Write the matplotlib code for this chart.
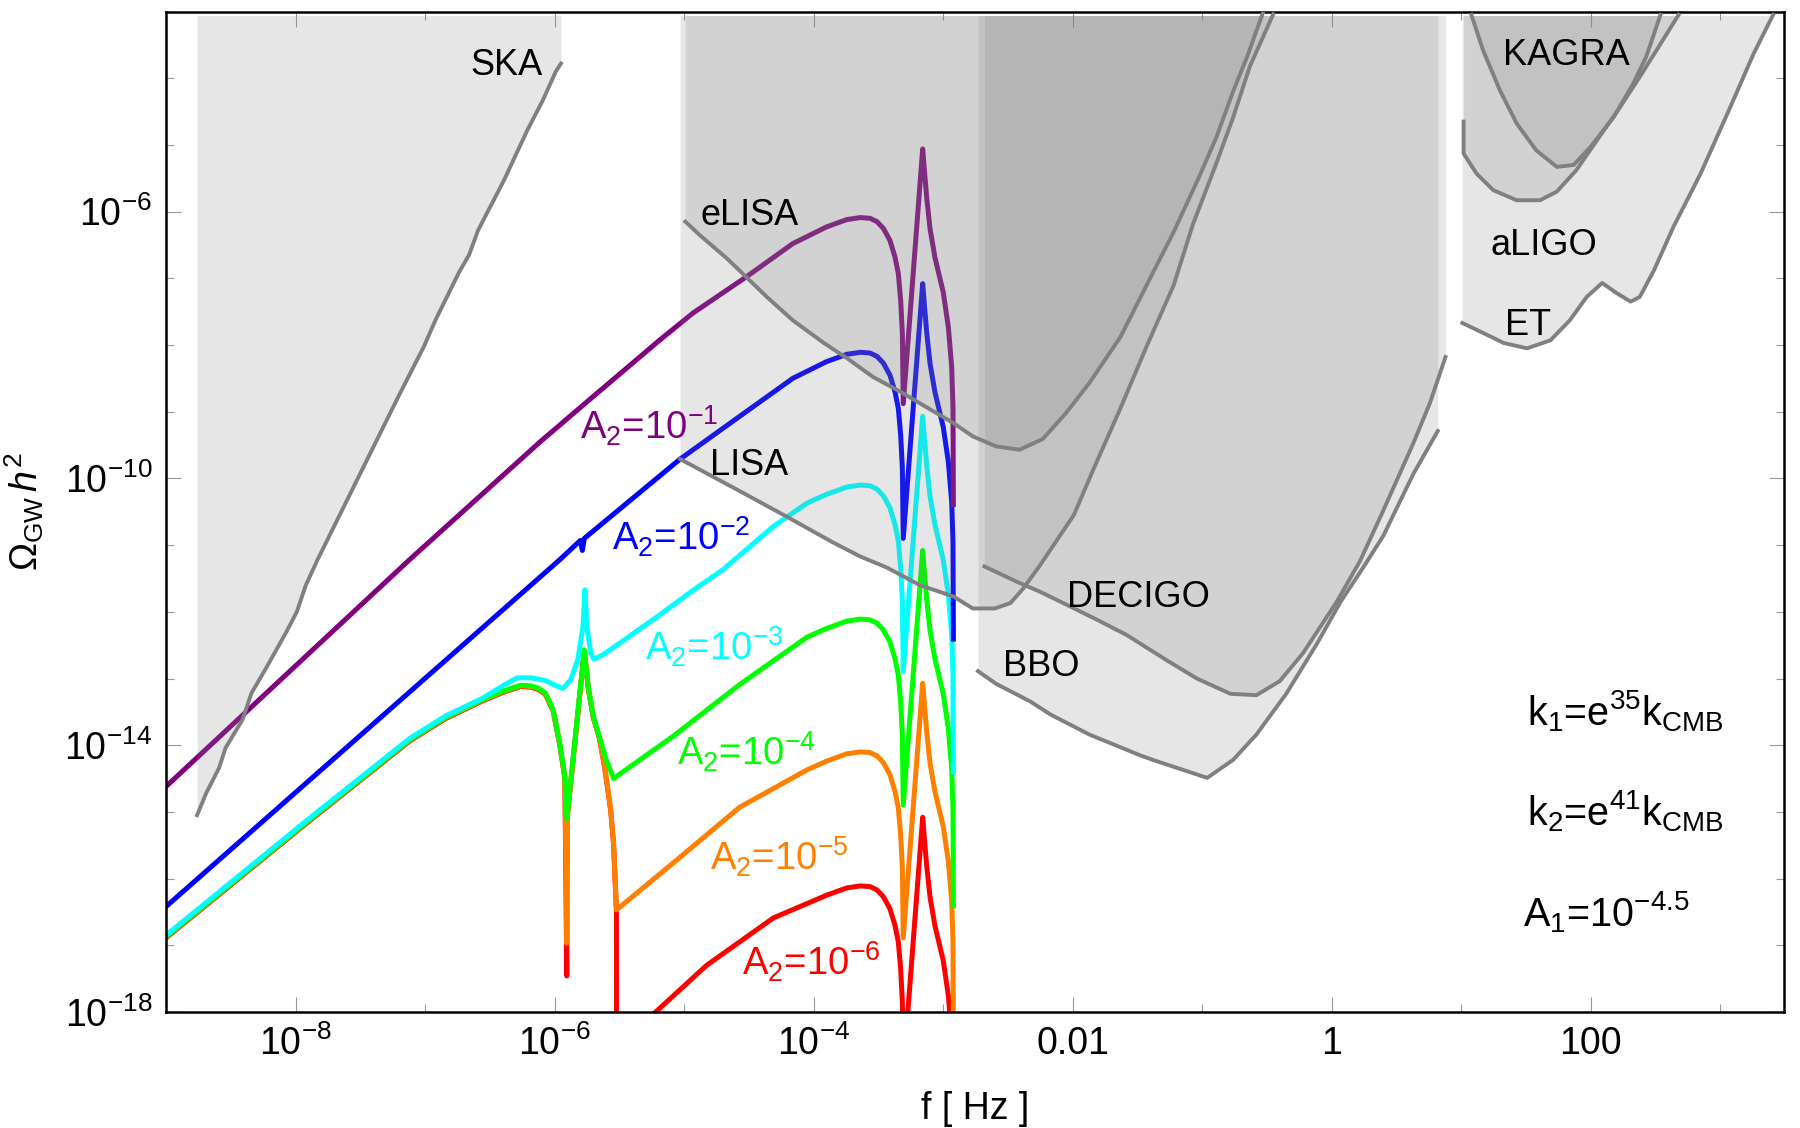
import numpy as np
import matplotlib
matplotlib.use('Agg')
import matplotlib.pyplot as plt
from matplotlib.ticker import NullFormatter

plt.rcParams['font.family'] = ['Liberation Sans', 'DejaVu Sans']
plt.rcParams['mathtext.fontset'] = 'custom'
plt.rcParams['mathtext.rm'] = 'Liberation Sans'
plt.rcParams['mathtext.it'] = 'Liberation Sans:italic'
plt.rcParams['mathtext.bf'] = 'Liberation Sans:bold'

# All values are log10(f / Hz) and log10(Omega_GW h^2).

# detector sensitivity curves
ska_f = [-8.76, -8.69, -8.59, -8.54, -8.41, -8.34, -8.22, -8.07, -7.99, -7.92, -7.83, -7.21,
         -7.10, -7.01, -6.92, -6.74, -6.66, -6.59, -6.39, -6.21, -6.09, -5.99, -5.95]
ska_om = [-15.05, -14.72, -14.34, -14.04, -13.62, -13.22, -12.82, -12.30, -12.00, -11.60, -11.22, -8.79,
          -8.37, -8.03, -7.63, -6.92, -6.65, -6.28, -5.53, -4.78, -4.33, -3.90, -3.78]

elisa_f = [-4.99, -4.88, -4.67, -4.52, -4.36, -4.16, -3.92, -3.74, -3.54, -3.33, -3.13, -2.92, -2.77,
           -2.59, -2.41, -2.23, -2.05, -1.87, -1.63, -1.38, -1.22, -1.02, -0.89, -0.76, -0.65, -0.53]
elisa_om = [-6.15, -6.35, -6.70, -6.98, -7.28, -7.63, -7.97, -8.20, -8.48, -8.70, -8.93, -9.17, -9.37,
            -9.52, -9.57, -9.41, -9.02, -8.57, -7.88, -6.92, -6.31, -5.47, -4.89, -4.20, -3.67, -3.02]

lisa_f = [-5.03, -4.57, -4.21, -3.85, -3.64, -3.43, -3.18, -2.92, -2.77, -2.60, -2.48, -2.38,
          -2.25, -1.99, -1.84, -1.63, -1.43, -1.22, -1.07, -0.89, -0.76, -0.63, -0.45]
lisa_om = [-9.71, -10.19, -10.57, -10.96, -11.17, -11.34, -11.60, -11.77, -11.95, -11.95, -11.87, -11.65,
           -11.30, -10.55, -9.87, -8.95, -8.03, -7.11, -6.19, -5.28, -4.59, -3.82, -3.04]

decigo_f = [-2.68, -2.43, -2.25, -2.05, -1.81, -1.58, -1.27, -1.04, -0.78, -0.58, -0.40, -0.22,
            0.04, 0.22, 0.40, 0.63, 0.76, 0.88]
decigo_om = [-11.32, -11.55, -11.70, -11.89, -12.12, -12.35, -12.73, -13.00, -13.23, -13.25, -13.04, -12.62,
             -11.85, -11.24, -10.48, -9.48, -8.87, -8.18]

bbo_f = [-2.73, -2.59, -2.33, -2.17, -1.87, -1.48, -1.38, -0.96, -0.76, -0.58, -0.35, -0.11,
         0.07, 0.25, 0.40, 0.63, 0.82]
bbo_om = [-12.89, -13.08, -13.34, -13.54, -13.84, -14.15, -14.22, -14.49, -14.22, -13.84, -13.23, -12.47,
          -11.85, -11.32, -10.86, -9.94, -9.29]

kagra_f = [1.08, 1.17, 1.30, 1.43, 1.58, 1.74, 1.87, 2.00, 2.18, 2.33, 2.43, 2.54]
kagra_om = [-3.05, -3.58, -4.18, -4.68, -5.08, -5.33, -5.30, -5.03, -4.58, -4.08, -3.68, -3.05]

aligo_f = [1.02, 1.02, 1.12, 1.25, 1.43, 1.61, 1.74, 1.89, 2.05, 2.23, 2.38, 2.51, 2.68]
aligo_om = [-4.65, -5.13, -5.43, -5.68, -5.83, -5.83, -5.70, -5.38, -4.93, -4.43, -3.98, -3.58, -3.05]

et_f = [1.01, 1.15, 1.33, 1.51, 1.69, 1.84, 1.97, 2.09, 2.20, 2.31, 2.38, 2.49, 2.64, 2.85, 3.08, 3.26, 3.41]
et_om = [-7.67, -7.80, -7.97, -8.05, -7.93, -7.63, -7.28, -7.07, -7.22, -7.35, -7.28, -6.88, -6.23,
         -5.43, -4.43, -3.63, -3.05]

# spectra for the six A2 values; f samples shared around the second resonance
res2_f = [-3.90, -3.744, -3.64, -3.564, -3.51, -3.461, -3.41, -3.371, -3.345, -3.327, -3.314, -3.307,
          -3.157, -3.139, -3.126, -3.100, -3.062, -2.998, -2.959, -2.933, -2.923, -2.920]

a2_1_f = [-9.00, -7.12, -6.11, -5.73, -5.19, -4.93, -4.52, -4.16] + res2_f
a2_1_om = [-14.62, -11.22, -9.45, -8.82, -7.93, -7.52, -6.98, -6.48,
           -6.23, -6.12, -6.09, -6.10, -6.15, -6.25, -6.43, -6.68, -6.93, -7.33, -7.82, -8.88,
           -5.06, -5.49, -5.79, -6.26, -6.69, -7.21, -7.73, -8.33, -8.93, -10.39]

a2_2_f = [-9.00, -5.96, -5.80, -5.785, -5.77, -5.03, -4.52, -4.16] + res2_f
a2_2_om = [-16.42, -11.22, -10.93, -11.08, -10.90, -9.71, -9.00, -8.50,
           -8.25, -8.14, -8.11, -8.12, -8.17, -8.27, -8.45, -8.70, -8.95, -9.35, -9.84, -10.90,
           -7.08, -7.51, -7.81, -8.28, -8.71, -9.23, -9.75, -10.35, -10.95, -12.41]

a2_3_f = [-9.00, -7.94, -7.12, -6.84, -6.56, -6.40, -6.29, -6.18, -6.07, -5.985, -5.935, -5.875, -5.82,
          -5.78, -5.765, -5.75, -5.72, -5.695, -5.63, -5.46, -5.19, -4.91, -4.70, -4.31, -4.05] + res2_f
a2_3_om = [-16.85, -15.17, -13.90, -13.56, -13.30, -13.11, -12.99, -12.99, -13.03, -13.11, -13.15, -13.02,
           -12.72, -12.22, -11.67, -12.22, -12.62, -12.71, -12.65, -12.42, -12.05, -11.65, -11.37, -10.72,
           -10.37,
           -10.24, -10.13, -10.10, -10.11, -10.16, -10.26, -10.44, -10.69, -10.94, -11.34, -11.83, -12.89,
           -9.07, -9.50, -9.80, -10.27, -10.70, -11.22, -11.74, -12.34, -12.94, -14.40]

a2_4_f = [-9.00, -7.94, -7.12, -6.84, -6.56, -6.40, -6.26, -6.18, -6.12, -6.07, -6.01, -5.96, -5.92,
          -5.905, -5.77, -5.74, -5.70, -5.654, -5.60, -5.544, -5.08, -4.57, -4.05] + res2_f
a2_4_om = [-16.87, -15.19, -13.92, -13.58, -13.32, -13.19, -13.10, -13.11, -13.15, -13.22, -13.47, -13.97,
           -14.47, -15.10, -12.57, -13.12, -13.57, -13.87, -14.22, -14.50, -13.86, -13.09, -12.38,
           -12.25, -12.14, -12.11, -12.12, -12.17, -12.27, -12.45, -12.70, -12.95, -13.35, -13.84, -14.90,
           -11.08, -11.51, -11.81, -12.28, -12.71, -13.23, -13.75, -14.35, -14.95, -16.41]

a2_5_f = [-9.00, -7.94, -7.12, -6.84, -6.56, -6.40, -6.26, -6.18, -6.12, -6.07, -6.01, -5.96, -5.92,
          -5.905, -5.903, -5.77, -5.74, -5.70, -5.654, -5.613, -5.566, -5.544, -5.522,
          -5.08, -4.57, -4.05] + res2_f
a2_5_om = [-16.88, -15.20, -13.93, -13.59, -13.33, -13.20, -13.11, -13.12, -13.16, -13.23, -13.48, -13.98,
           -14.48, -16.97, -15.10, -12.58, -13.13, -13.58, -13.88, -14.32, -14.97, -15.47, -16.47,
           -15.76, -14.93, -14.37,
           -14.24, -14.13, -14.10, -14.11, -14.16, -14.26, -14.44, -14.69, -14.94, -15.34, -15.83, -16.89,
           -13.07, -13.50, -13.80, -14.27, -14.70, -15.22, -15.74, -16.34, -16.94, -18.40]

a2_6_f = [-9.00, -7.94, -7.12, -6.84, -6.56, -6.40, -6.26, -6.18, -6.12, -6.07, -6.01, -5.96, -5.92,
          -5.905, -5.903, -5.77, -5.74, -5.70, -5.654, -5.613, -5.566, -5.544, -5.522, -5.521,
          np.nan, -5.224, -4.825, -4.31] + res2_f[:20]
a2_6_om = [-16.89, -15.21, -13.94, -13.60, -13.34, -13.21, -13.12, -13.13, -13.17, -13.24, -13.49, -13.99,
           -14.49, -17.46, -15.10, -12.59, -13.14, -13.59, -13.89, -14.33, -14.98, -15.48, -16.48, -18.10,
           np.nan, -18.01, -17.30, -16.59,
           -16.25, -16.14, -16.11, -16.12, -16.17, -16.27, -16.45, -16.70, -16.95, -17.35, -17.84, -18.90,
           -15.08, -15.51, -15.81, -16.28, -16.71, -17.23, -17.75, -18.35]

a2_labels = ['A$_2$=10$^{-1}$', 'A$_2$=10$^{-2}$', 'A$_2$=10$^{-3}$',
             'A$_2$=10$^{-4}$', 'A$_2$=10$^{-5}$', 'A$_2$=10$^{-6}$']
a2_colors = ['#800080', '#0000ff', '#00ffff', '#00ff00', '#ff8000', '#ff0000']

xmajor = [-8, -6, -4, -2, 0, 2]
xmajor_labels = ['$10^{-8}$', '$10^{-6}$', '$10^{-4}$', '0.01', '1', '100']
xminor = [-7, -5, -3, -1, 1, 3]
ymajor = [-18, -14, -10, -6]
ymajor_labels = ['$10^{-18}$', '$10^{-14}$', '$10^{-10}$', '$10^{-6}$']
yminor = [d for d in range(-17, -2) if d not in ymajor]


def p(a):
    return 10.0 ** np.asarray(a, dtype=float)


fig = plt.figure(figsize=(18, 11.28), dpi=100)
ax = fig.add_axes([166 / 1800, 1 - 1012 / 1128, 1618 / 1800, 1000.5 / 1128])
ax.set_xscale('log')
ax.set_yscale('log')
ax.set_xlim(1e-9, 10 ** 3.494)
ax.set_ylim(1e-18, 1e-3)

# coloured spectra (drawn under the detector shading)
curves = [(a2_6_f, a2_6_om), (a2_5_f, a2_5_om), (a2_4_f, a2_4_om),
          (a2_3_f, a2_3_om), (a2_2_f, a2_2_om), (a2_1_f, a2_1_om)]
for (f, om), c in zip(curves, a2_colors[::-1]):
    ax.plot(p(f), p(om), color=c, lw=3.6, zorder=2)

# detector regions: translucent grey above each curve, overlaps get darker
fill_top = 10 ** -3.06
detectors = [(ska_f, ska_om), (elisa_f, elisa_om), (lisa_f, lisa_om), (decigo_f, decigo_om),
             (bbo_f, bbo_om), (kagra_f, kagra_om), (aligo_f, aligo_om), (et_f, et_om)]
for f, om in detectors:
    ax.fill_between(p(f), p(om), fill_top, color='#828282', alpha=0.2, lw=0, zorder=3)
for f, om in detectors:
    ax.plot(p(f), p(om), color='#808080', lw=2.8, zorder=4)


def label(lf, lo, s, color='black', ha='left', size=26):
    ax.text(10 ** lf, 10 ** lo, s, color=color, ha=ha, va='baseline', fontsize=size, zorder=6)


label(-6.374, -3.952, 'SKA', ha='center')
label(-4.876, -6.20, 'eLISA')
label(-4.80, -9.95, 'LISA')
label(-2.045, -11.93, 'DECIGO')
label(-2.534, -12.96, 'BBO')
label(1.327, -3.80, 'KAGRA')
label(1.224, -6.65, 'aLIGO')
label(1.34, -7.85, 'ET')

a2_label_pos = [(-5.803, -9.417), (-5.558, -11.078), (-5.301, -12.738),
                (-5.056, -14.309), (-4.799, -15.879), (-4.554, -17.45)]
for (lf, lo), s, c in zip(a2_label_pos, a2_labels, a2_colors):
    label(lf, lo, s, color=c, size=27.5)

label(1.507, -13.70, 'k$_1$=e$^{35}$k$_{\\rm CMB}$', size=28.5)
label(1.507, -15.20, 'k$_2$=e$^{41}$k$_{\\rm CMB}$', size=28.5)
label(1.48, -16.72, 'A$_1$=10$^{-4.5}$', size=28.5)

# axes, ticks, labels
ax.set_xticks(p(xmajor), xmajor_labels)
ax.set_xticks(p(xminor), minor=True)
ax.set_yticks(p(ymajor), ymajor_labels)
ax.set_yticks(p(yminor), minor=True)
ax.xaxis.set_minor_formatter(NullFormatter())
ax.yaxis.set_minor_formatter(NullFormatter())
ax.tick_params(which='both', direction='in', top=True, right=True, color='#999999', width=0.8)
ax.tick_params(which='major', length=11, labelsize=27, pad=10)
ax.tick_params(which='minor', length=6)
for s in ax.spines.values():
    s.set_linewidth(1.8)

ax.set_xlabel('f [ Hz ]', fontsize=27)
ax.set_ylabel('$\\Omega_{\\rm GW}\\, h^2$', fontsize=27)
ax.xaxis.set_label_coords(0.5, -0.079)
ax.yaxis.set_label_coords(-0.074, 0.5)

fig.savefig('out.png', dpi=100)
